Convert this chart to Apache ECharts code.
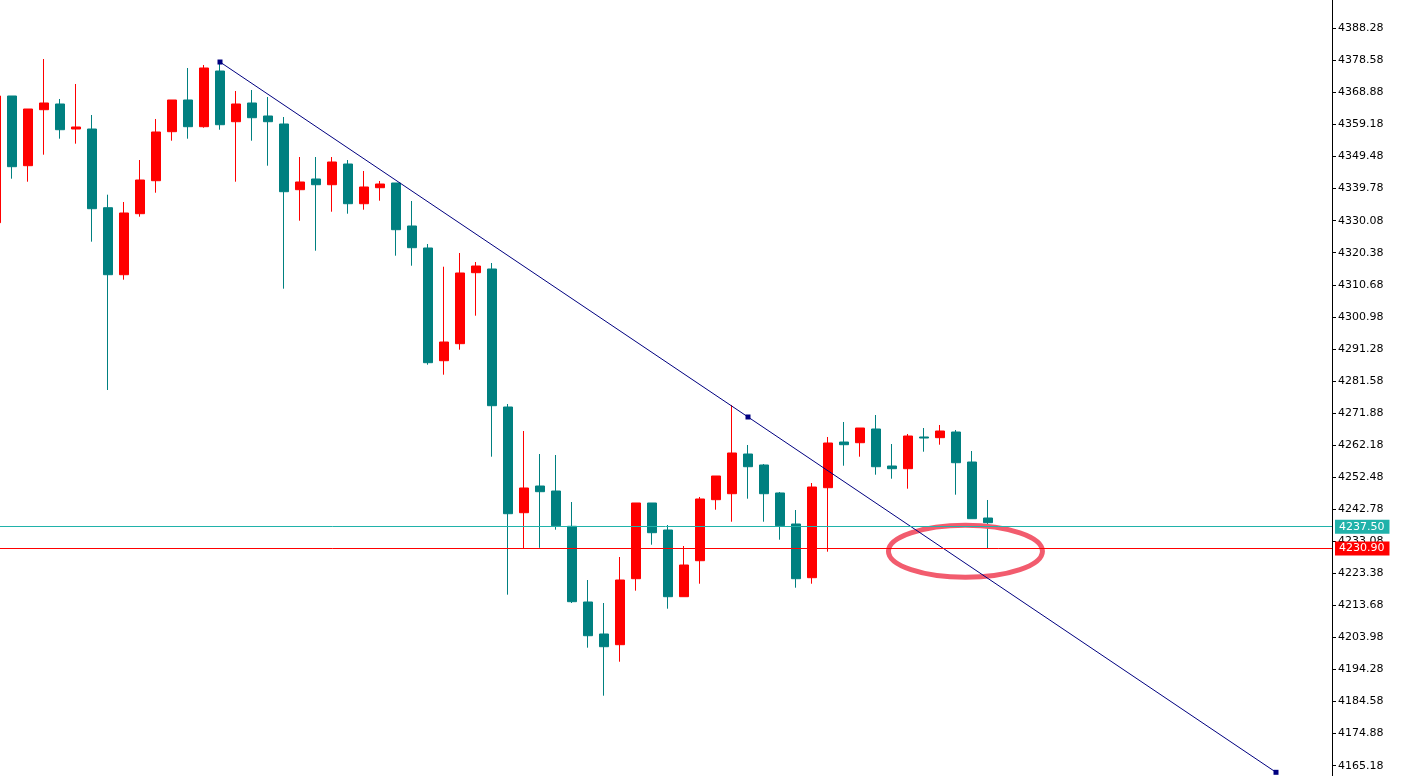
<!DOCTYPE html>
<html>
<head>
<meta charset="utf-8">
<title>Candles</title>
<script src="https://cdn.jsdelivr.net/npm/echarts@6/dist/echarts.min.js"></script>
<style>
  html, body { margin: 0; padding: 0; background: #ffffff; }
  #chart { width: 1401px; height: 776px; }
</style>
</head>
<body>
<div id="chart"></div>
<script>
// bar slots on the time axis, the last ones stay empty (chart shift)
var slotCount = 84;
var categories = [];
for (var i = 0; i < slotCount; i++) categories.push(String(i));

var openPrices = [
  4329.46, 4367.80, 4346.71, 4363.65, 4365.38, 4357.81, 4357.81, 4334.00, 4313.73, 4332.19,
  4342.17, 4357.00, 4366.59, 4358.51, 4375.36, 4360.02, 4365.68, 4361.75, 4359.33, 4339.45,
  4342.69, 4340.96, 4347.22, 4335.21, 4340.05, 4341.48, 4328.47, 4321.81, 4287.71, 4292.86,
  4314.34, 4315.46, 4273.70, 4241.72, 4249.80, 4248.29, 4237.61, 4214.71, 4205.03, 4201.79,
  4221.76, 4244.66, 4236.49, 4216.31, 4227.20, 4245.66, 4247.47, 4259.48, 4256.16, 4247.69,
  4238.31, 4222.06, 4249.29, 4263.11, 4262.90, 4267.05, 4255.85, 4255.04, 4264.63, 4264.42,
  4266.14, 4257.06, 4240.12
];
var closePrices = [
  4367.80, 4346.41, 4363.86, 4365.68, 4357.60, 4358.42, 4333.70, 4313.73, 4332.40, 4342.38,
  4356.91, 4366.59, 4358.51, 4376.27, 4359.11, 4365.38, 4361.23, 4360.02, 4338.84, 4341.78,
  4340.96, 4347.83, 4335.21, 4340.27, 4341.17, 4327.35, 4321.90, 4287.11, 4293.37, 4314.25,
  4316.36, 4274.10, 4241.42, 4249.20, 4248.08, 4237.79, 4214.80, 4204.51, 4201.18, 4221.36,
  4244.66, 4235.67, 4216.31, 4225.90, 4245.87, 4252.83, 4259.79, 4255.64, 4247.47, 4237.79,
  4221.76, 4249.50, 4262.81, 4262.30, 4267.35, 4255.64, 4255.04, 4264.93, 4264.32, 4266.44,
  4256.85, 4239.91, 4238.70
];
var lowPrices = [
  4329.00, 4342.78, 4341.87, 4350.04, 4354.88, 4353.37, 4323.72, 4278.85, 4312.22, 4331.28,
  4338.54, 4354.27, 4354.88, 4358.21, 4357.60, 4341.87, 4354.27, 4346.71, 4309.50, 4330.07,
  4320.99, 4332.79, 4332.19, 4333.40, 4336.12, 4319.48, 4316.45, 4286.50, 4283.48, 4291.04,
  4301.33, 4258.67, 4216.92, 4230.90, 4231.10, 4236.58, 4214.40, 4200.88, 4186.36, 4196.64,
  4218.13, 4232.04, 4212.68, 4216.31, 4220.24, 4242.63, 4239.00, 4245.96, 4239.00, 4233.56,
  4219.03, 4220.24, 4229.93, 4255.94, 4258.67, 4253.22, 4252.01, 4248.99, 4260.18, 4262.30,
  4247.17, 4239.91, 4230.90
];
var highPrices = [
  4367.80, 4367.80, 4363.86, 4378.99, 4366.89, 4371.43, 4362.05, 4337.94, 4335.73, 4348.43,
  4360.84, 4366.59, 4376.27, 4377.18, 4378.39, 4369.31, 4369.61, 4367.49, 4361.44, 4349.34,
  4349.34, 4349.34, 4348.43, 4345.11, 4342.08, 4341.48, 4336.03, 4323.02, 4316.15, 4320.30,
  4317.57, 4317.27, 4274.61, 4266.44, 4259.48, 4259.18, 4244.96, 4221.36, 4214.40, 4228.32,
  4244.66, 4244.66, 4238.00, 4231.65, 4246.48, 4252.83, 4274.31, 4262.21, 4256.46, 4247.99,
  4242.54, 4250.71, 4264.63, 4269.17, 4267.35, 4271.28, 4262.51, 4265.54, 4267.35, 4268.26,
  4266.75, 4260.39, 4245.57
];

// price scale (right side)
var priceMin = 4155.48;
var priceMax = 4397.98;
var priceStep = 9.70;

// horizontal levels
var askLevel = 4237.50;
var bidLevel = 4230.90;

// trend line anchors (bar index, price)
var trendBars = [14, 47, 80];
var trendPrices = [4378.08, 4270.68, 4163.18];

// circled zone (bar position, price)
var circleBar = 60.59;
var circlePrice = 4230.08;

var candleData = openPrices.map(function (o, i) {
  return [o, closePrices[i], lowPrices[i], highPrices[i]];
});
var trendData = trendBars.map(function (b, i) { return [b, trendPrices[i]]; });

var font = 'DejaVu Sans';
var chart = echarts.init(document.getElementById('chart'));

function levelLine(value, color) {
  return {
    yAxis: value,
    lineStyle: { color: color, width: 1, type: 'solid' },
    label: {
      show: true,
      position: 'end',
      distance: 3,
      formatter: function (p) { return p.value.toFixed(2); },
      color: '#ffffff',
      backgroundColor: color,
      fontFamily: font,
      fontSize: 11,
      lineHeight: 12,
      padding: [1, 5, 1, 4]
    }
  };
}

var option = {
  animation: false,
  backgroundColor: '#ffffff',
  grid: {
    left: -12,
    right: 69,
    top: -3.76,
    bottom: -21.76,
    containLabel: false,
    outerBoundsMode: 'none'
  },
  xAxis: [
    {
      type: 'category',
      data: categories,
      boundaryGap: true,
      show: false
    },
    {
      // same slots as a continuous scale, for the annotation
      type: 'value',
      min: -0.5,
      max: slotCount - 0.5,
      show: false
    }
  ],
  yAxis: {
    type: 'value',
    position: 'right',
    scale: true,
    min: priceMin,
    max: priceMax,
    interval: priceStep,
    splitLine: { show: false },
    axisLine: { show: true, onZero: false, lineStyle: { color: '#000000', width: 1 } },
    axisTick: { show: true, length: 4, lineStyle: { color: '#000000' } },
    axisLabel: {
      color: '#000000',
      fontFamily: font,
      fontSize: 11,
      margin: 6,
      formatter: function (v) { return v.toFixed(2); }
    }
  },
  series: [
    {
      name: 'levels',
      type: 'line',
      data: [],
      z: 1,
      silent: true,
      markLine: {
        silent: true,
        symbol: 'none',
        animation: false,
        data: [levelLine(askLevel, '#20b2aa'), levelLine(bidLevel, '#ff0000')]
      }
    },
    {
      name: 'price',
      type: 'candlestick',
      data: candleData,
      z: 2,
      barWidth: 10,
      itemStyle: {
        color: '#ff0000',
        color0: '#008080',
        borderColor: '#ff0000',
        borderColor0: '#008080',
        borderWidth: 1
      }
    },
    {
      name: 'circle',
      type: 'custom',
      xAxisIndex: 1,
      z: 3,
      silent: true,
      clip: false,
      data: [[circleBar, circlePrice]],
      encode: { x: 0, y: 1 },
      renderItem: function (params, api) {
        var c = api.coord([api.value(0), api.value(1)]);
        return {
          type: 'ellipse',
          shape: { cx: c[0], cy: c[1], rx: 77, ry: 26 },
          style: { fill: 'none', stroke: '#f25c6e', lineWidth: 5 }
        };
      }
    },
    {
      name: 'trend',
      type: 'line',
      data: trendData,
      z: 4,
      silent: true,
      symbol: 'rect',
      symbolSize: 5,
      showAllSymbol: true,
      lineStyle: { color: '#000080', width: 1 },
      itemStyle: { color: '#000080' }
    }
  ]
};

chart.setOption(option);
</script>
</body>
</html>
